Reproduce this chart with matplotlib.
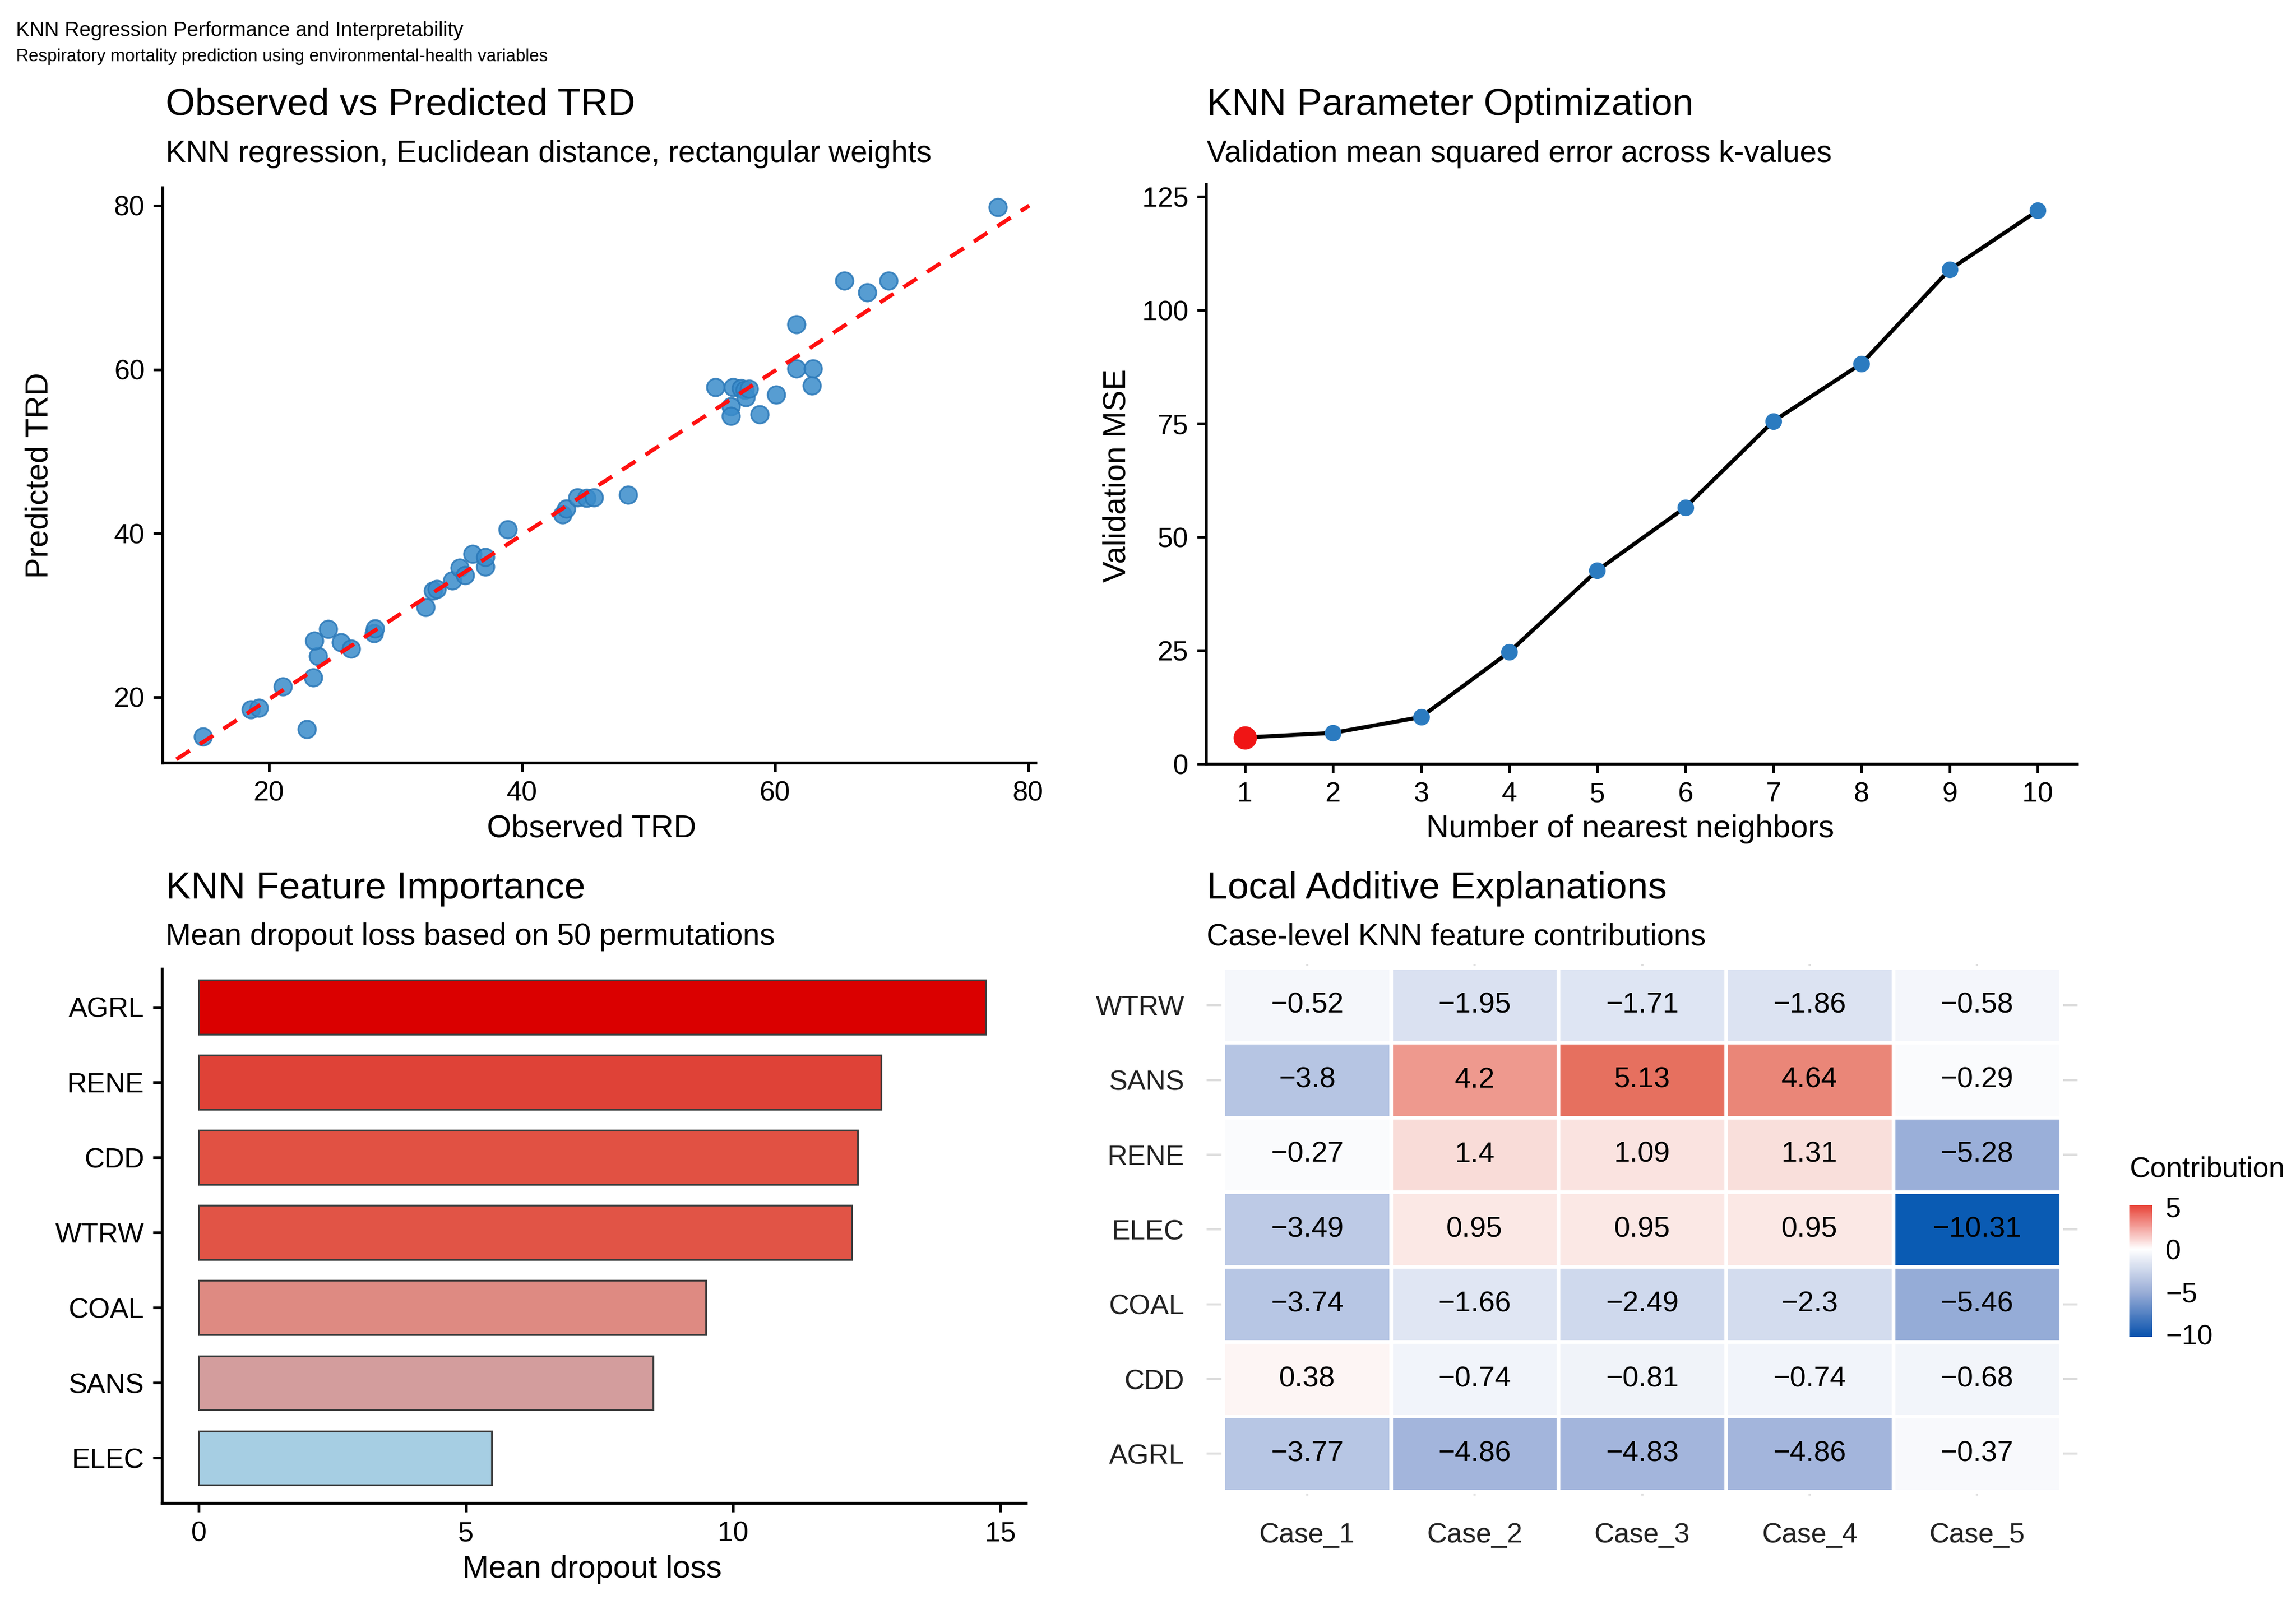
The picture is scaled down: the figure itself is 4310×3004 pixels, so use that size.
import numpy as np
import matplotlib
matplotlib.use("Agg")
import matplotlib.pyplot as plt
from matplotlib.colors import LinearSegmentedColormap, Normalize
from matplotlib.cm import ScalarMappable

plt.rcParams['font.family'] = ['Liberation Sans', 'DejaVu Sans']

# ---------------- data ----------------
observed = [14.8, 18.6, 19.2, 21.1, 23.0, 23.5, 23.9, 23.6, 24.7, 25.7, 26.5, 28.3,
            28.4, 32.4, 33.0, 33.3, 34.5, 35.1, 35.5, 36.1, 37.1, 37.1, 38.9, 43.2,
            43.5, 44.4, 45.1, 45.7, 48.4, 55.3, 56.5, 56.5, 56.7, 57.3, 57.6, 57.7,
            57.95, 58.8, 60.1, 61.7, 61.7, 63.0, 62.9, 65.5, 67.3, 69.0, 77.6]
predicted = [15.2, 18.5, 18.7, 21.3, 16.1, 22.4, 25.0, 26.9, 28.3, 26.7, 25.9, 27.8,
             28.4, 31.0, 33.0, 33.2, 34.2, 35.8, 34.9, 37.5, 35.9, 37.1, 40.5, 42.3,
             43.0, 44.4, 44.3, 44.4, 44.7, 57.8, 55.5, 54.3, 57.8, 57.7, 57.5, 56.6,
             57.6, 54.5, 56.9, 60.1, 65.5, 60.1, 58.0, 70.8, 69.4, 70.8, 79.8]
fit_range = [12.7, 80.1]

k_values = [1, 2, 3, 4, 5, 6, 7, 8, 9, 10]
val_mse = [5.8, 6.8, 10.3, 24.6, 42.6, 56.5, 75.5, 88.2, 108.9, 121.9]

features = ['ELEC', 'SANS', 'COAL', 'WTRW', 'CDD', 'RENE', 'AGRL']
dropout_loss = [5.48, 8.50, 9.49, 12.22, 12.33, 12.77, 14.72]

heat_rows = ['WTRW', 'SANS', 'RENE', 'ELEC', 'COAL', 'CDD', 'AGRL']
heat_cols = ['Case_1', 'Case_2', 'Case_3', 'Case_4', 'Case_5']
wtrw = [-0.52, -1.95, -1.71, -1.86, -0.58]
sans = [-3.8, 4.2, 5.13, 4.64, -0.29]
rene = [-0.27, 1.4, 1.09, 1.31, -5.28]
elec = [-3.49, 0.95, 0.95, 0.95, -10.31]
coal = [-3.74, -1.66, -2.49, -2.3, -5.46]
cdd = [0.38, -0.74, -0.81, -0.74, -0.68]
agrl = [-3.77, -4.86, -4.83, -4.86, -0.37]
contrib = np.array([wtrw, sans, rene, elec, coal, cdd, agrl])

# ---------------- figure ----------------
W, H = 4310, 3004
fig = plt.figure(figsize=(W / 300, H / 300), dpi=300)


def box(l, t, r, b):
    return [l / W, 1 - b / H, (r - l) / W, (b - t) / H]


def ftext(x, y, s, **kw):
    fig.text(x / W, 1 - y / H, s, **kw)


TICK = 12.5
LAB = 14.2
TITLE = 17
SUB = 13.7


def style_axes(ax):
    for s in ['top', 'right']:
        ax.spines[s].set_visible(False)
    for s in ['left', 'bottom']:
        ax.spines[s].set_linewidth(1.3)
    ax.tick_params(labelsize=TICK, length=4, width=1.2, pad=4, colors='black')


ftext(30, 58, 'KNN Regression Performance and Interpretability', fontsize=9.2, va='center')
ftext(30, 107, 'Respiratory mortality prediction using environmental-health variables',
      fontsize=7.9, va='center')

# ---- panel 1: observed vs predicted ----
ax1 = fig.add_axes(box(305, 352, 1944, 1432))
style_axes(ax1)
slope, intercept = np.polyfit(observed, predicted, 1)
fx = np.array(fit_range)
ax1.plot(fx, slope * fx + intercept, color='#FF1010', lw=1.8, ls=(0, (4, 3)), zorder=3)
ax1.scatter(observed, predicted, s=62, color='#3A8CCB', edgecolor='#2A78B8',
            linewidth=0.8, alpha=0.85, zorder=2)
ax1.set_xlim(11.6, 80.6)
ax1.set_ylim(12.0, 82.2)
ax1.set_xticks([20, 40, 60, 80])
ax1.set_yticks([20, 40, 60, 80])
ftext(311, 198, 'Observed vs Predicted TRD', fontsize=TITLE, va='center')
ftext(311, 289, 'KNN regression, Euclidean distance, rectangular weights', fontsize=SUB, va='center')
ftext(1111, 1556, 'Observed TRD', fontsize=LAB, ha='center', va='center')
ftext(74, 893, 'Predicted TRD', fontsize=LAB, ha='center', va='center', rotation=90)

# ---- panel 2: k optimisation ----
ax2 = fig.add_axes(box(2264, 346, 3898, 1434))
style_axes(ax2)
best = int(np.argmin(val_mse))
ax2.plot(k_values, val_mse, color='black', lw=1.8, zorder=2)
ax2.plot(k_values, val_mse, 'o', color='#2B7BC0', ms=6.5, zorder=3)
ax2.plot(k_values[best], val_mse[best], 'o', color='#F01515', ms=9.5, zorder=4)
ax2.set_xlim(0.56, 10.44)
ax2.set_ylim(0, 127.7)
ax2.set_xticks(k_values)
ax2.set_yticks([0, 25, 50, 75, 100, 125])
ftext(2265, 198, 'KNN Parameter Optimization', fontsize=TITLE, va='center')
ftext(2265, 289, 'Validation mean squared error across k-values', fontsize=SUB, va='center')
ftext(3060, 1556, 'Number of nearest neighbors', fontsize=LAB, ha='center', va='center')
ftext(2097, 893, 'Validation MSE', fontsize=LAB, ha='center', va='center', rotation=90)

# ---- panel 3: feature importance ----
ax3 = fig.add_axes(box(304, 1819, 1926, 2822))
style_axes(ax3)
bar_cmap = LinearSegmentedColormap.from_list(
    'imp', [(0.0, '#A6CEE3'), (0.327, '#D39D9D'), (0.434, '#DE8A82'),
            (0.73, '#E15446'), (1.0, '#DA0000')])
bar_norm = Normalize(min(dropout_loss), max(dropout_loss))
ypos = np.arange(len(features))
ax3.barh(ypos, dropout_loss, height=0.72, color=bar_cmap(bar_norm(dropout_loss)),
         edgecolor='#3a3a3a', linewidth=0.8)
ax3.set_yticks(ypos)
ax3.set_yticklabels(features)
ax3.set_xticks([0, 5, 10, 15])
ax3.set_xlim(-0.69, 15.48)
ax3.set_ylim(-0.6, 6.51)
ftext(311, 1669, 'KNN Feature Importance', fontsize=TITLE, va='center')
ftext(311, 1759, 'Mean dropout loss based on 50 permutations', fontsize=SUB, va='center')
ftext(1111, 2947, 'Mean dropout loss', fontsize=LAB, ha='center', va='center')

# ---- panel 4: local explanations heatmap ----
ax4 = fig.add_axes(box(2265, 1810, 3900, 2808))
vmin, vmax = contrib.min(), contrib.max()
zero = -vmin / (vmax - vmin)
heat_cmap = LinearSegmentedColormap.from_list(
    'div', [(0.0, '#0A5BB3'), (zero * 0.49, '#9BAFD9'), (zero, '#FFFFFF'),
            (zero + (1 - zero) * 0.27, '#F9DDD9'), (zero + (1 - zero) * 0.82, '#EE9A8F'),
            (1.0, '#E6705F')])
bar_cmap_legend = LinearSegmentedColormap.from_list(
    'divleg', [(0.0, '#0852AD'), (zero * 0.5, '#98ACD6'), (zero, '#FFFFFF'),
               (1.0, '#E8453A')])
heat_norm = Normalize(vmin, vmax)
nr, nc = contrib.shape
for s in ax4.spines.values():
    s.set_visible(False)
ax4.set_axisbelow(True)
ax4.grid(True, color='#dddddd', lw=1.0)
ax4.pcolormesh(np.arange(nc + 1) - 0.5, np.arange(nr + 1) - 0.5, contrib[::-1],
               cmap=heat_cmap, norm=heat_norm, edgecolors='white', linewidth=1.6,
               zorder=2)
for i in range(nr):
    for j in range(nc):
        v = contrib[nr - 1 - i, j]
        ax4.text(j, i, f'{v:g}'.replace('-', '\u2212'), ha='center', va='center',
                 fontsize=13, color='black', zorder=3)
ax4.set_xlim(-0.6, nc - 0.4)
ax4.set_ylim(-0.56, nr - 0.45)
ax4.set_xticks(range(nc))
ax4.set_xticklabels(heat_cols)
ax4.set_yticks(range(nr))
ax4.set_yticklabels(heat_rows[::-1])
ax4.tick_params(length=0, labelsize=TICK, pad=10, colors='#222222')
ax4.tick_params(axis='x', pad=12)
ftext(2265, 1669, 'Local Additive Explanations', fontsize=TITLE, va='center')
ftext(2265, 1759, 'Case-level KNN feature contributions', fontsize=SUB, va='center')

cax = fig.add_axes(box(3997, 2263, 4040, 2510))
cb = fig.colorbar(ScalarMappable(norm=heat_norm, cmap=bar_cmap_legend), cax=cax,
                  ticks=[5, 0, -5, -10])
cb.outline.set_visible(False)
cax.tick_params(length=0, labelsize=12.5, pad=6)
ftext(3997, 2195, 'Contribution', fontsize=13, va='center')

fig.savefig('out.png', dpi=300, facecolor='white')
